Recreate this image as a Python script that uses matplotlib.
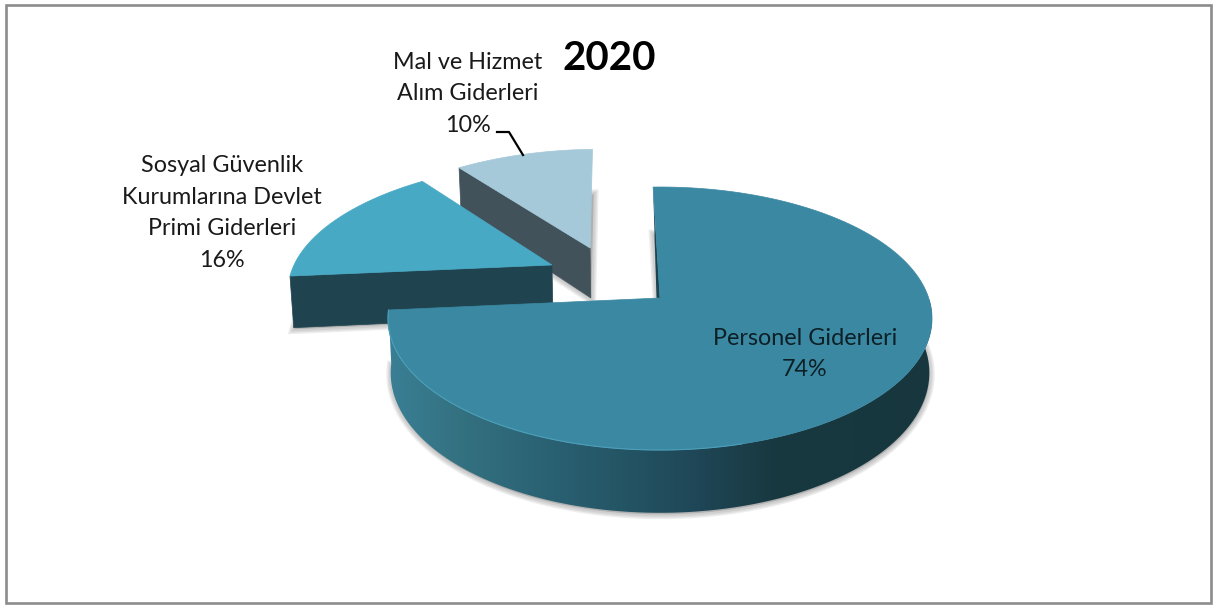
import numpy as np
import matplotlib
matplotlib.use("Agg")
import matplotlib.pyplot as plt
from matplotlib.colors import LinearSegmentedColormap
from matplotlib.patches import Polygon, Rectangle

# %% data
title = "2020"
names = ["Personel Giderleri", "Sosyal Güvenlik\nKurumlarına Devlet\nPrimi Giderleri", "Mal ve Hizmet\nAlım Giderleri"]
values = [74, 16, 10]

# %% look of the fake 3d pie
top_colors = ["#3b88a3", "#48a9c5", "#a5c9d9"]
wall_colors = [None, "#1f444f", "#42525b"]
side_stops = ["#3a7f95", "#33707f", "#2a6274", "#245565", "#1f4656", "#18383f", "#173840", "#17363e"]
# how far each slice is pulled out, in units of the pie radius
explode = [(0.0, 0.0), (-0.419, 0.268), (-0.277, 0.415)]
start_angle = -1.7
x0, y0 = 660, 298
scale_x, scale_y, persp = 268.7, 128.3, 0.156
depth = 53
bottom_shrink = 0.99

plt.rcParams["font.family"] = ["Lato", "DejaVu Sans"]

fig = plt.figure(figsize=(12.15, 6.06), dpi=100)
ax = fig.add_axes([0, 0, 1, 1])
ax.set_xlim(0, 1215)
ax.set_ylim(606, 0)
ax.axis("off")


def project(x, y, lift=False):
    # pie plane to pixels, with a bit of perspective
    w = 1 + persp * y
    px = x0 + scale_x * x / w
    py = y0 - scale_y * y / w
    if lift:
        px = x0 + (px - x0) * bottom_shrink
        py = py + depth / w
    return px, py


def rim(a0, a1, off, lift=False):
    t = np.radians(np.linspace(a0, a1, 200))
    return np.column_stack(project(np.sin(t) + off[0], np.cos(t) + off[1], lift))


def shadow(pts, z):
    for lw in [7, 5, 3]:
        ax.add_patch(Polygon(pts + [0.5, 1.5], closed=True, fc="#777777", ec="#777777", lw=lw, alpha=0.13, zorder=z))


# angle of each slice from the values
edges = start_angle + np.cumsum([0] + values) * 3.6

# slices are painted back to front
for i, z in [(2, 2), (1, 3), (0, 4)]:
    a0, a1 = edges[i], edges[i + 1]
    off = explode[i]
    apex = np.array(project(*off))
    apex_low = np.array(project(*off, lift=True))
    top_rim = rim(a0, a1, off)
    low_rim = rim(a0, a1, off, lift=True)

    shadow(np.vstack([low_rim, [apex_low]]), z)

    if i == 0:
        # outer side with the dark gradient
        side = np.vstack([rim(60, a1, off), rim(60, a1, off, lift=True)[::-1]])
        patch = Polygon(side, closed=True, fc="none", ec="none", zorder=z)
        ax.add_patch(patch)
        cmap = LinearSegmentedColormap.from_list("side", side_stops)
        im = ax.imshow(np.linspace(0, 1, 256).reshape(1, -1), cmap=cmap, aspect="auto", extent=(388, 934, 520, 300), zorder=z + 0.1, interpolation="bilinear")
        im.set_clip_path(patch)
        ax.set_xlim(0, 1215)
        ax.set_ylim(606, 0)
        # thin dark strip along the cut at 12 o'clock
        ax.add_patch(Polygon([top_rim[0], apex, apex - [3.5, 0]], closed=True, fc="#1c4350", ec="none", zorder=z + 0.2))
    else:
        # cut wall that faces the viewer
        wall = np.array([top_rim[0], apex, apex_low, low_rim[0]])
        ax.add_patch(Polygon(wall, closed=True, fc=wall_colors[i], ec=wall_colors[i], lw=0.5, zorder=z + 0.1))

    ax.add_patch(Polygon(np.vstack([top_rim, [apex]]), closed=True, fc=top_colors[i], ec=top_colors[i], lw=0.5, zorder=z + 0.3))

# light edge on the front of the big slice
edge = rim(165, edges[1], explode[0])
ax.plot(edge[:, 0], edge[:, 1], color="#4c9fb8", lw=0.8, zorder=4.4)

# %% texts
ax.text(609, 58, title, fontsize=29, fontweight="bold", ha="center", va="center", color="black", zorder=6)

txt = "#1a1a1a"
spacing = 1.62
ax.text(805, 354, f"{names[0]}\n{values[0]}%", fontsize=16.8, ha="center", va="center", color="#0c2026", linespacing=spacing, zorder=6)
ax.text(222, 213, f"{names[1]}\n{values[1]}%", fontsize=16.8, ha="center", va="center", color=txt, linespacing=spacing, zorder=6)
ax.text(468, 94, f"{names[2]}\n{values[2]}%", fontsize=16.8, ha="center", va="center", color=txt, linespacing=spacing, zorder=6)

# leader line for the 10% label
ax.plot([497, 509, 523], [132, 132, 155], color="black", lw=1.6, zorder=6)

# chart frame
ax.add_patch(Rectangle((5.5, 4.5), 1205.5, 598, fc="none", ec="#8c8c8c", lw=1.9, zorder=7))

fig.savefig("out.png", dpi=100)
